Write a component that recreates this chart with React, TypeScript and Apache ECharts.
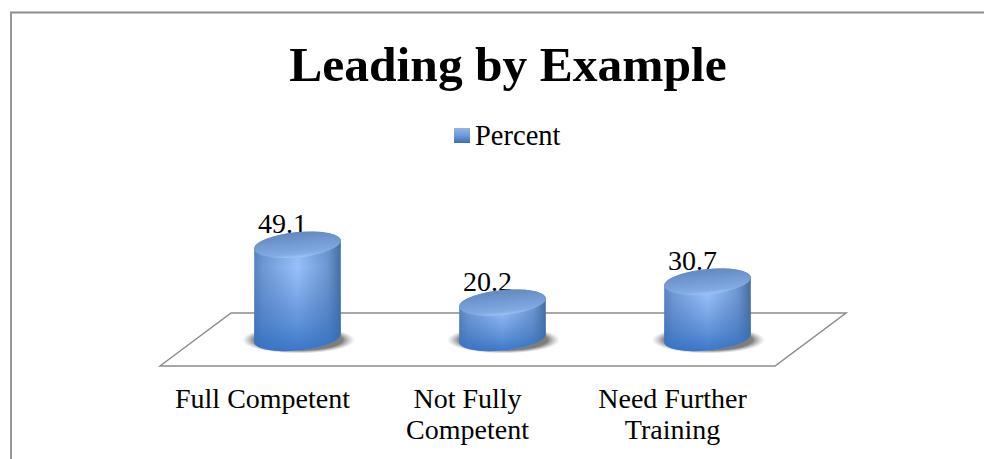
import React, { useEffect, useRef } from "react";
import * as echarts from "echarts";

const categories = ["Full Competent", "Not Fully\nCompetent", "Need Further\nTraining"];
const percentValues = [49.1, 20.2, 30.7];
const seriesName = "Percent";
const titleText = "Leading by Example";

const FONT = "'Liberation Serif', serif";
const RX = 43.5;
const RY = 12.5;
const TILT = 0.1;
const DEPTH_X = 35;
const DEPTH_Y = 26;

function ellipsePts(cx: number, cy: number, from: number, to: number) {
  const pts: number[][] = [];
  const n = 32;
  for (let i = 0; i <= n; i++) {
    const t = from + ((to - from) * i) / n;
    const x = RX * Math.cos(t);
    const y = RY * Math.sin(t);
    pts.push([
      cx + x * Math.cos(TILT) + y * Math.sin(TILT),
      cy - x * Math.sin(TILT) + y * Math.cos(TILT),
    ]);
  }
  return pts;
}

const G = echarts.graphic;

function renderFloor(params: any) {
  const c = params.coordSys;
  const bottom = c.y + c.height;
  const back = bottom - 2 * DEPTH_Y - 1;
  const shift = 2 * DEPTH_X + 1;
  return {
    type: "polygon",
    silent: true,
    shape: {
      points: [
        [c.x, bottom],
        [c.x + shift, back],
        [c.x + c.width + shift, back],
        [c.x + c.width, bottom],
      ],
    },
    style: { fill: "#fff", stroke: "#8c8c8c", lineWidth: 1.5 },
  };
}

function renderCylinder(_params: any, api: any) {
  const value = api.value(1);
  const [px, py] = api.coord([api.value(0), value]);
  const [, py0] = api.coord([api.value(0), 0]);
  const cx = px + DEPTH_X;
  const topY = py - DEPTH_Y + 3;
  const baseY = py0 - DEPTH_Y - 2;
  const body = [...ellipsePts(cx, baseY, Math.PI, 0), ...ellipsePts(cx, topY, 0, -Math.PI)];
  return {
    type: "group",
    children: [
      {
        type: "text",
        style: {
          x: cx - 15,
          y: topY - 7,
          text: String(value),
          font: `28px ${FONT}`,
          fill: "#000",
          align: "center",
          verticalAlign: "bottom",
        },
      },
      {
        type: "ellipse",
        x: cx + 1,
        y: baseY + 2,
        shape: { cx: 0, cy: 0, rx: RX + 13, ry: RY + 1 },
        style: {
          fill: new G.RadialGradient(0.5, 0.5, 0.5, [
            { offset: 0, color: "rgba(90,90,90,0.9)" },
            { offset: 0.78, color: "rgba(105,105,105,0.85)" },
            { offset: 1, color: "rgba(160,160,160,0)" },
          ]),
        },
      },
      {
        type: "polygon",
        shape: { points: body },
        style: {
          fill: new G.LinearGradient(0, 0, 1, 0, [
            { offset: 0, color: "#5682bc" },
            { offset: 0.1, color: "#6e98d4" },
            { offset: 0.5, color: "#97c0fb" },
            { offset: 0.85, color: "#6c96d0" },
            { offset: 1, color: "#456da0" },
          ]),
        },
      },
      {
        type: "polygon",
        shape: { points: body },
        style: {
          fill: new G.LinearGradient(0, 0, 0, 1, [
            { offset: 0, color: "rgba(70,115,180,0.2)" },
            { offset: 0.3, color: "rgba(70,115,180,0)" },
            { offset: 0.8, color: "rgba(50,110,190,0.6)" },
            { offset: 1, color: "rgba(50,110,195,0.9)" },
          ]),
        },
      },
      {
        type: "ellipse",
        x: cx,
        y: topY,
        rotation: TILT,
        shape: { cx: 0, cy: 0, rx: RX, ry: RY },
        style: {
          fill: new G.LinearGradient(0, 0, 0, 1, [
            { offset: 0, color: "#6389bf" },
            { offset: 0.85, color: "#82aae3" },
            { offset: 1, color: "#a0c3f3" },
          ]),
        },
      },
    ],
  };
}

export default function App() {
  const ref = useRef<HTMLDivElement>(null);
  useEffect(() => {
    const chart = echarts.init(ref.current!, undefined, { renderer: "svg" });
    const option: any = {
      animation: false,
      backgroundColor: "#fff",
      title: {
        text: titleText,
        left: 503,
        top: 34,
        textAlign: "center",
        textStyle: { fontFamily: FONT, fontSize: 49.5, fontWeight: "bold", color: "#000" },
      },
      legend: {
        data: [seriesName],
        left: 449,
        top: 116,
        icon: "rect",
        itemWidth: 16,
        itemHeight: 15,
        itemGap: 4,
        textStyle: { fontFamily: FONT, fontSize: 28.5, color: "#000" },
      },
      grid: { left: 160, width: 615, top: 166, height: 200, containLabel: false },
      xAxis: {
        type: "category",
        data: categories,
        axisLine: { show: false },
        axisTick: { show: false },
        axisLabel: {
          interval: 0,
          margin: 17,
          fontFamily: FONT,
          fontSize: 28,
          lineHeight: 31,
          color: "#000",
        },
      },
      yAxis: { type: "value", min: 0, max: 100, show: false },
      graphic: {
        elements: [
          {
            type: "polyline",
            silent: true,
            shape: { points: [[11, 459], [11, 12.5], [984, 12.5]] },
            style: { fill: "none", stroke: "#8c8c8c", lineWidth: 1.8 },
          },
        ],
      },
      series: [
        {
          type: "custom",
          name: "floor",
          silent: true,
          z: 1,
          data: [[0, 0]],
          renderItem: renderFloor,
          clip: false,
        },
        {
          type: "custom",
          name: seriesName,
          z: 2,
          itemStyle: {
            color: new G.LinearGradient(0, 0, 0, 1, [
              { offset: 0, color: "#8fb6ea" },
              { offset: 0.5, color: "#6e9bd8" },
              { offset: 1, color: "#3a6db0" },
            ]),
          },
          data: percentValues.map((v, i) => [i, v]),
          encode: { x: 0, y: 1 },
          renderItem: renderCylinder,
          clip: false,
        },
      ],
    };
    chart.setOption(option);
    return () => chart.dispose();
  }, []);
  return (
    <div
      ref={ref}
      style={{ position: "absolute", left: 0, top: 0, width: 984, height: 459 }}
    />
  );
}
